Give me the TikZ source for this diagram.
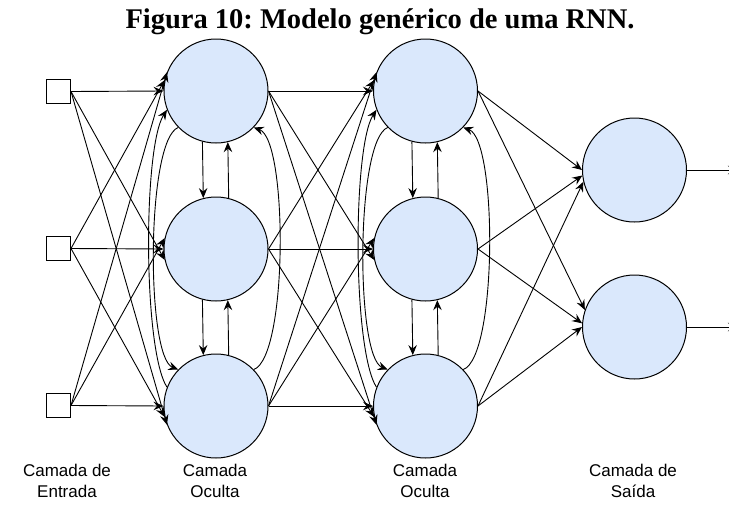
\documentclass[tikz,border=0pt]{standalone}
\usepackage{fontspec}
\setmainfont{Liberation Serif}
\setsansfont{Liberation Sans}
\usetikzlibrary{arrows.meta}
\definecolor{nfill}{HTML}{DAE8FC}
\frenchspacing

\begin{document}
\begin{tikzpicture}[x=1pt,y=-1pt,
  neuron/.style={circle,draw,line width=1pt,fill=nfill,minimum size=104pt,inner sep=0pt},
  inbox/.style={rectangle,draw,line width=1pt,fill=white,minimum size=24pt,inner sep=0pt},
  link/.style={line width=0.9pt,-{Stealth[length=10pt,width=8.5pt,inset=3.5pt]}},
  layerlabel/.style={font=\sffamily\fontsize{17}{21}\selectfont,align=center,inner sep=0pt}]
\useasboundingbox (0,0) rectangle (729,512);

% title
\node[font=\bfseries\fontsize{28.5}{32}\selectfont,anchor=base,inner sep=0pt] (title) at (380,28)
  {Figura 10: Modelo genérico de uma RNN.};

% input layer
\node[inbox] (x1) at (58.5,91.5) {};
\node[inbox] (x2) at (58.5,248.5) {};
\node[inbox] (x3) at (58.5,405.5) {};

% first hidden layer
\node[neuron] (a1) at (216,91) {};
\node[neuron] (a2) at (216,249) {};
\node[neuron] (a3) at (216,406) {};

% second hidden layer
\node[neuron] (b1) at (425.5,91) {};
\node[neuron] (b2) at (425.5,249) {};
\node[neuron] (b3) at (425.5,406) {};

% output layer
\node[neuron] (o1) at (634.5,170) {};
\node[neuron] (o2) at (634.5,327) {};
\coordinate (y1) at (738,170);
\coordinate (y2) at (738,327);

% entry angle on the target, indexed by source row and target row
\def\entry#1#2{\ifcase\numexpr(#2-#1)+2\relax 159\or 168\or 180\or 192\or 201\fi}

% fully connected links: east point of the source to the west side of the target
\foreach \i in {1,2,3}
  \foreach \j in {1,2,3} {
    \draw[link] (x\i.east) -- (a\j.\entry{\i}{\j});
    \draw[link] (a\i.east) -- (b\j.\entry{\i}{\j});
  }
\foreach \i/\ang in {1/180,2/186,3/193} \draw[link] (b\i.east) -- (o1.\ang);
\foreach \i/\ang in {1/161,2/176,3/180} \draw[link] (b\i.east) -- (o2.\ang);
\draw[link] (o1.east) -- (y1);
\draw[link] (o2.east) -- (y2);

% recurrent links inside each hidden layer
\foreach \l/\dx in {a/0,b/209.5} {
  \draw[link] (\l1.255.5) -- (\l2.104.5);
  \draw[link] (\l2.76.6) -- (\l1.283.4);
  \draw[link] (\l2.255.5) -- (\l3.104.5);
  \draw[link] (\l3.76.6) -- (\l2.283.4);
  \draw[link] (\l1.224) .. controls (146+\dx,140) and (146+\dx,357) .. (\l3.136);
  \draw[link] (\l3.159) .. controls (143+\dx,350) and (143+\dx,147) .. (\l1.201);
  \draw[link] (\l3.44) .. controls (288+\dx,357) and (288+\dx,140) .. (\l1.316);
}

% layer captions
\node[layerlabel] (lx) at (67,481) {Camada de\\Entrada};
\node[layerlabel] (la) at (215,481) {Camada\\Oculta};
\node[layerlabel] (lb) at (425,481) {Camada\\Oculta};
\node[layerlabel] (lo) at (633,481) {Camada de\\Saída};
\end{tikzpicture}
\end{document}
